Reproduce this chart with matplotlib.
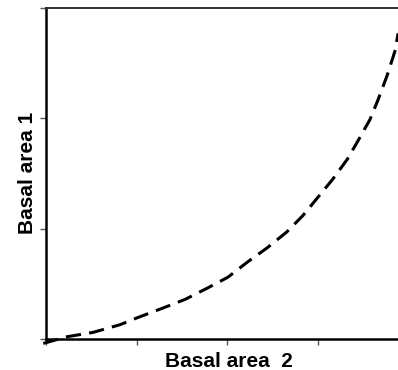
import numpy as np
import matplotlib.pyplot as plt

plt.rcParams['font.family'] = ['Liberation Sans', 'DejaVu Sans']

# relationship between the two basal areas
area2 = [-0.03, 0.23, 0.52, 0.82, 1.00, 1.29, 1.54, 1.78, 2.01, 2.23, 2.45,
         2.66, 2.84, 3.00, 3.17, 3.33, 3.45, 3.58, 3.67, 3.77, 3.86, 3.89]
area1 = [-0.04, 0.02, 0.06, 0.13, 0.19, 0.28, 0.36, 0.46, 0.56, 0.70, 0.83,
         0.97, 1.12, 1.28, 1.45, 1.63, 1.80, 1.99, 2.17, 2.39, 2.62, 2.77]

W, H = 398, 370
fig = plt.figure(figsize=(W / 100, H / 100), dpi=100)
ax = fig.add_axes([46 / W, 31 / H, 362 / W, 331 / H])

ax.plot(area2, area1, color='black', lw=2.2, linestyle=(0, (5, 2.7)),
        clip_on=False, dash_capstyle='butt')

ax.set_xlim(0, 4)
ax.set_ylim(0, 3)
ax.set_xticks([0, 1, 2, 3, 4])
ax.set_yticks([0, 1, 2, 3])
ax.set_xticklabels([])
ax.set_yticklabels([])
ax.tick_params(axis='both', direction='out', length=4, width=1, color='#555555')

for side in ['left', 'bottom']:
    ax.spines[side].set_linewidth(1.8)
ax.spines['top'].set_linewidth(1.4)
ax.spines['top'].set_color('#333333')
ax.spines['right'].set_linewidth(1.4)

fig.text(228.5 / W, 1 - 367 / H, 'Basal area  2', fontsize=15, fontweight='bold',
         ha='center', va='baseline')
fig.text(27.5 / W, 1 - 172.5 / H, 'Basal area 1', fontsize=15, fontweight='bold',
         rotation=90, ha='center', va='center')

fig.savefig('out.png', dpi=100)
